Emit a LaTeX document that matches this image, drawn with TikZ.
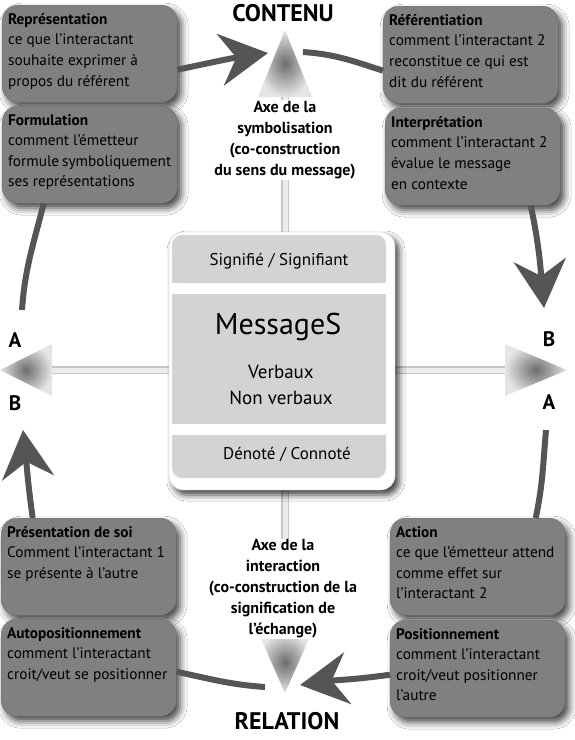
\documentclass[tikz,border=0pt]{standalone}
\usepackage{fontspec}
\setmainfont{PT Sans}
\usetikzlibrary{arrows.meta,shadows.blur}
\definecolor{boxgray}{HTML}{808080}
\definecolor{boxline}{HTML}{6E6E6E}
\definecolor{cycgray}{HTML}{555555}
\definecolor{stripgray}{HTML}{D3D3D3}
\newcommand{\boxtxt}[2]{\parbox[c][81pt][t]{163pt}{\textbf{#1}\\#2}}
\begin{document}
\begin{tikzpicture}[x=1pt,y=-1pt,
  infobox/.style={draw=boxline,fill=boxgray,rounded corners=16pt,anchor=north west,
    inner xsep=6pt,inner ysep=8pt,font=\fontsize{15.3}{20.6}\selectfont,
    blur shadow={shadow xshift=4pt,shadow yshift=-5pt,shadow blur radius=7pt,shadow opacity=75}},
  cyc/.style={draw=cycgray,line width=6pt},
  bighead/.style={-{Stealth[length=48pt,width=52pt,inset=16pt]}},
  axisbar/.style={draw=gray!45,double=gray!15,double distance=5pt,line width=1.2pt},
  fuzzy/.style={inner color=gray!85!black,outer color=gray!20},
  axlabel/.style={font=\fontsize{16}{21}\selectfont\bfseries,align=center,fill=white,inner sep=1pt},
  pole/.style={font=\fontsize{24}{26}\selectfont\bfseries},
  side/.style={font=\fontsize{21}{22}\selectfont\bfseries}]
\useasboundingbox[fill=white] (0,0) rectangle (575,740);
% axes
\coordinate (axT) at (285,97); \coordinate (axB) at (285,632);
\coordinate (axL) at (50,370); \coordinate (axR) at (507,370);
\draw[axisbar] (axT)--(axB);
\draw[axisbar] (axL)--(axR);
\shade[fuzzy] (285,30)--(258,97)--(312,97)--cycle;
\shade[fuzzy] (285,693)--(258,632)--(312,632)--cycle;
\shade[fuzzy] (0,370)--(52,344)--(52,396)--cycle;
\shade[fuzzy] (567,370)--(505,344)--(505,396)--cycle;
% boxes
\node[infobox] (rep) at (2,5) {\boxtxt{Représentation}{ce que l’interactant\\souhaite exprimer à\\propos du référent}};
\node[infobox] (form) at (2,106) {\boxtxt{Formulation}{comment l’émetteur\\formule symboliquement\\ses représentations}};
\node[infobox] (refe) at (383,6) {\boxtxt{Référentiation}{comment l’interactant 2\\reconstitue ce qui est\\dit du référent}};
\node[infobox] (interp) at (385,108) {\boxtxt{Interprétation}{comment l’interactant 2\\évalue le message\\en contexte}};
\node[infobox] (pres) at (1,518) {\boxtxt{Présentation de soi}{Comment l’interactant 1\\se présente à l’autre}};
\node[infobox] (auto) at (1,619) {\boxtxt{Autopositionnement}{comment l’interactant\\croit/veut se positionner}};
\node[infobox] (act) at (390,518) {\boxtxt{Action}{ce que l’émetteur attend\\comme effet sur\\l’interactant 2}};
\node[infobox] (posit) at (390,620) {\boxtxt{Positionnement}{comment l’interactant\\croit/veut positionner\\l’autre}};
% cycle
\coordinate (tipTL) at (268,53); \coordinate (startTR) at (303,52);
\coordinate (tipR) at (544,308); \coordinate (startR) at (546,430);
\coordinate (tipBR) at (300,685); \coordinate (startBL) at (265,687);
\coordinate (tipL) at (23,430); \coordinate (startL) at (22,310);
\draw[cyc,bighead] ([yshift=-16pt]rep.east) to[out=12,in=188] (tipTL);
\draw[cyc] (startTR) to[out=-4,in=162] ([yshift=-16pt]refe.west);
\draw[cyc,bighead] ([xshift=58pt]interp.south) to[out=-78,in=95] (tipR);
\draw[cyc] (startR) to[out=-95,in=78] ([xshift=58pt]act.north);
\draw[cyc,bighead] ([yshift=-6pt]posit.west) to[out=188,in=8] (tipBR);
\draw[cyc] ([yshift=-4pt]auto.east) to[out=-12,in=176] (startBL);
\draw[cyc,bighead] ([xshift=-56pt]pres.north) to[out=98,in=-84] (tipL);
\draw[cyc] ([xshift=-46pt]form.south) to[out=-104,in=86] (startL);
% center message
\node[draw=gray!45,fill=white,rounded corners=14pt,minimum width=226pt,minimum height=258pt,
  blur shadow={shadow xshift=4pt,shadow yshift=-5pt,shadow blur radius=6pt,shadow opacity=75}] (msg) at (282,361) {};
\fill[stripgray,rounded corners=10pt] (172,235) rectangle (386,283);
\fill[stripgray] (172,262) rectangle (386,283);
\fill[stripgray] (172,294) rectangle (386,424);
\fill[stripgray,rounded corners=10pt] (172,435) rectangle (386,478);
\fill[stripgray] (172,435) rectangle (386,455);
\node[font=\fontsize{17}{20}\selectfont] (signif) at (279,261) {Signifié / Signifiant};
\node[font=\fontsize{30}{32}\selectfont] (msgs) at (278,327) {MessageS};
\node[font=\fontsize{19}{26}\selectfont,align=center] (verb) at (281,385) {Verbaux\\Non verbaux};
\node[font=\fontsize{17}{20}\selectfont] (denot) at (287,455) {Dénoté / Connoté};
% labels
\node[axlabel] (symb) at (285,140) {Axe de la\\symbolisation\\(co-construction\\du sens du message)};
\node[axlabel] (inter) at (283,589) {Axe de la\\interaction\\(co-construction de la\\signification de\\l’échange)};
\node[pole] (cont) at (283,13) {CONTENU};
\node[pole] (rel) at (287,721) {RELATION};
\node[side] (lA) at (15,340) {A};
\node[side] (lB) at (15,403) {B};
\node[side] (rB) at (549,339) {B};
\node[side] (rA) at (549,402) {A};
\end{tikzpicture}
\end{document}
